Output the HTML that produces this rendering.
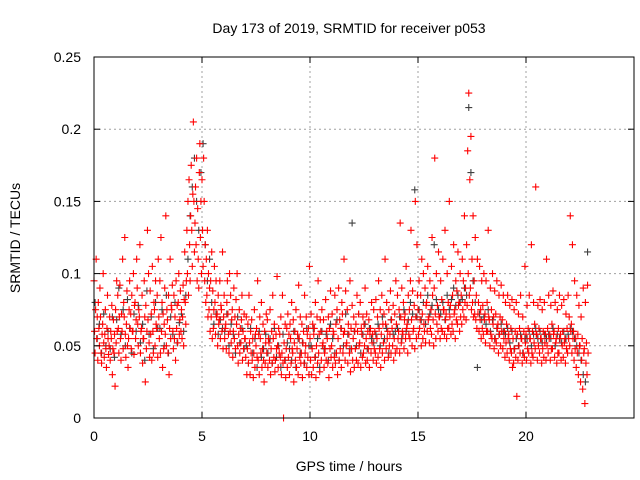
<!DOCTYPE html>
<html><head><meta charset="utf-8"><style>
body{margin:0;background:#fff}
svg{display:block;font-family:"Liberation Sans",sans-serif}
</style></head><body>
<svg id="chart" width="640" height="480" viewBox="0 0 640 480" xmlns="http://www.w3.org/2000/svg">
<rect width="640" height="480" fill="#fff"/>
<text x="349" y="33" text-anchor="middle" font-size="14">Day 173 of 2019, SRMTID for receiver p053</text>
<text transform="translate(20,238) rotate(-90)" text-anchor="middle" font-size="14">SRMTID / TECUs</text>
<text x="349" y="471" text-anchor="middle" font-size="14">GPS time / hours</text>
<g id="grid"></g><g id="gray"></g><g id="red"></g><g id="axes"></g>
</svg>
<script>
const xTicks=[0,5,10,15,20];
const yTicks=[0,0.05,0.1,0.15,0.2,0.25];
const yTickLabels=["0","0.05","0.1","0.15","0.2","0.25"];
const binWidth=0.1;
// red series: per hour, 10 bins of 4 values (thousandths of TECU)
const redHours=[
"95,60,45,75|110,55,70,40|80,62,50,90|70,45,38,58|65,100,52,42|58,75,48,35|62,85,55,44|50,70,40,60|55,78,30,48|68,45,58,22",
"75,52,95,60|85,62,45,70|92,55,40,72|60,110,48,80|70,125,58,42|65,88,50,35|55,75,95,62|72,48,85,60|60,100,44,78|80,55,68,110",
"90,65,50,75|70,120,45,60|62,85,38,55|55,95,70,25|78,48,60,130|68,100,52,42|88,58,72,40|105,60,45,80|75,50,95,65|62,85,42,110",
"70,55,95,45|125,60,80,35|72,48,65,90|58,140,50,75|68,45,85,30|62,110,55,78|75,92,60,48|85,55,70,40|95,62,78,52|80,100,58,68",
"88,60,75,55|70,92,50,82|115,80,65,95|130,100,150,85|165,120,95,140|175,130,105,155|205,150,115,135|160,120,180,95|145,110,90,170|190,125,150,100",
"165,130,105,180|150,95,120,80|110,85,130,70|100,75,90,60|95,70,115,55|88,62,75,105|80,58,95,70|72,50,85,65|68,95,55,78|75,60,115,48",
"70,85,55,62|65,48,80,95|72,58,45,100|60,85,52,68|75,42,60,90|55,70,48,82|65,100,50,38|58,75,45,62|52,68,85,40|60,48,72,55",
"55,42,70,30|48,65,38,85|52,30,60,45|68,40,55,28|45,75,35,58|50,62,42,95|40,58,30,70|55,45,80,35|48,65,40,25|60,38,52,72",
"45,68,35,55|52,40,75,30|48,60,38,85|55,42,65,32|40,58,48,98|50,35,62,45|58,42,70,30|45,85,38,0|52,40,65,28|48,62,35,72",
"42,58,30,65|55,38,80,48|45,68,25,52|60,40,75,35|48,58,30,92|55,42,70,38|45,65,28,52|60,38,85,45|50,70,35,58|42,62,30,105",
"55,40,72,30|48,65,35,58|62,42,80,28|50,70,38,95|45,58,32,68|60,40,75,50|52,68,35,45|48,82,40,60|55,38,70,28|62,48,88,42",
"50,72,35,60|58,42,85,38|65,45,75,30|55,90,40,68|48,62,35,80|72,45,58,110|60,40,88,50|52,75,38,65|58,45,95,32|62,48,78,40",
"55,70,35,60|48,65,40,85|60,38,72,50|52,80,35,62|58,42,70,45|65,50,90,38|55,72,40,60|48,68,35,58|62,45,80,52|58,40,75,48",
"60,45,82,38|55,70,42,95|62,48,75,35|58,85,45,65|52,72,40,110|65,48,80,55|60,42,75,50|58,88,45,68|62,50,78,40|55,72,45,95",
"65,48,85,55|60,75,45,135|70,52,90,60|58,80,48,68|72,55,105,62|65,45,85,58|75,55,95,130|68,50,88,60|62,78,48,150|70,55,120,85",
"75,58,95,62|68,85,50,110|72,55,100,65|60,90,52,78|80,60,105,68|70,52,95,62|75,58,125,85|68,50,90,180|72,55,100,65|78,60,115,70",
"70,55,95,62|82,60,110,75|75,58,130,68|72,55,100,62|80,62,150,70|78,58,105,65|85,60,120,72|75,55,95,68|88,65,115,78|80,60,100,70",
"85,65,110,75|95,70,140,80|90,68,120,78|185,100,225,85|165,90,195,75|110,80,140,70|95,72,125,68|85,62,110,72|80,60,105,68|75,55,95,62",
"78,58,100,68|72,52,95,60|80,60,130,70|68,50,90,58|75,55,100,65|70,48,88,55|72,52,95,62|65,45,85,58|70,50,92,60|68,48,85,55",
"60,42,80,52|65,45,85,55|58,40,78,48|62,45,82,35|55,38,75,48|60,42,80,15|58,40,72,50|62,45,85,55|55,38,70,45|60,42,105,52",
"58,40,78,48|62,45,85,55|55,38,120,45|60,42,80,52|65,48,160,58|58,40,78,50|62,45,82,55|55,38,75,48|60,42,80,52|58,40,110,50",
"62,45,85,55|58,40,78,48|65,48,88,58|60,42,80,52|55,38,75,45|62,45,85,55|58,40,78,50|60,42,82,52|55,38,72,48|62,45,85,55",
"70,50,140,60|65,45,120,55|60,40,95,48|55,35,85,45|58,30,78,50|50,25,70,40|55,20,90,45|48,10,80,38|52,30,92,45"
];
// gray series: one value per 0.1h bin (thousandths)
const grayHours=[
"80,55,65,45,72,50,60,48,70,42","68,90,58,75,50,82,62,45,72,60","78,52,65,40,88,58,70,48,80,62",
"62,75,50,85,45,70,58,80,52,66","72,60,85,110,140,160,180,150,130,170","190,120,95,110,80,65,72,58,68,62",
"60,72,50,65,58,45,70,52,62,48","50,38,62,45,55,35,60,42,48,58","45,55,38,62,42,50,35,58,40,52",
"48,40,60,35,55,45,52,38,62,50","50,62,42,55,35,60,48,58,40,65","55,45,68,40,62,50,72,58,48,135",
"60,50,72,45,58,65,48,62,55,52","58,65,50,70,55,62,45,68,58,60","62,70,55,75,60,68,80,72,158,70",
"75,68,80,65,85,72,78,120,82,75","72,80,68,85,75,82,90,78,85,80","82,90,85,215,170,95,80,35,72,68",
"70,65,75,60,68,55,62,58,65,60","58,62,52,60,48,55,50,58,45,55","55,60,50,58,62,55,60,52,58,55",
"58,55,62,50,58,55,52,60,55,58","62,60,55,50,45,40,30,25,115"
];
const X0=94,X1=634,Y0=418,Y1=57,XMAX=25,YMAX=0.25;
const xs=t=>X0+(X1-X0)*t/XMAX;
const ys=v=>Y0-(Y0-Y1)*v/YMAX;
const NS="http://www.w3.org/2000/svg";
function mk(tag,attrs,parent){const e=document.createElementNS(NS,tag);for(const k in attrs)e.setAttribute(k,attrs[k]);parent.appendChild(e);return e;}
const grid=document.getElementById('grid'),axes=document.getElementById('axes');
xTicks.forEach(t=>{
  if(t>0){const g=mk('line',{x1:xs(t),x2:xs(t),y1:Y0,y2:Y1,stroke:'#a0a0a0','stroke-dasharray':'2,3'},grid);
  
  }
  mk('line',{x1:xs(t),x2:xs(t),y1:Y0,y2:Y0-6,stroke:'#000'},axes);
  mk('line',{x1:xs(t),x2:xs(t),y1:Y1,y2:Y1+6,stroke:'#000'},axes);
  const l=mk('text',{x:xs(t),y:Y0+23,'text-anchor':'middle','font-size':'14'},axes);l.textContent=t;
  
  
});
yTicks.forEach((v,i)=>{
  if(v>0&&v<YMAX){const g=mk('line',{x1:X0,x2:X1,y1:ys(v),y2:ys(v),stroke:'#a0a0a0','stroke-dasharray':'2,3'},grid);
  
  }
  mk('line',{x1:X0,x2:X0+6,y1:ys(v),y2:ys(v),stroke:'#000'},axes);
  mk('line',{x1:X1,x2:X1-6,y1:ys(v),y2:ys(v),stroke:'#000'},axes);
  const l=mk('text',{x:X0-13,y:ys(v)+5,'text-anchor':'end','font-size':'14'},axes);l.textContent=yTickLabels[i];
  
  
});
const frame=mk('rect',{x:X0,y:Y1,width:X1-X0,height:Y0-Y1,fill:'none',stroke:'#000'},axes);


function plus(g,t,v,col){
  const x=xs(t),y=ys(v);
  const p=mk('path',{d:`M${x-3.5},${y}h7M${x},${y-3.5}v7`,stroke:col,'stroke-width':'1.1',fill:'none'},g);
  return p;
}
const gg=document.getElementById('gray');
grayHours.forEach((s,h)=>s.split(',').forEach((val,b)=>{
  const p=plus(gg,h+b*binWidth+0.05,(+val)/1000,'#404040');
  
  
}));
const rg=document.getElementById('red');
redHours.forEach((s,h)=>s.split('|').forEach((bin,b)=>bin.split(',').forEach((val,j)=>{
  const p=plus(rg,h+b*binWidth+j*0.025,(+val)/1000,'#ff0000');
  
  
})));
</script>
</body></html>
